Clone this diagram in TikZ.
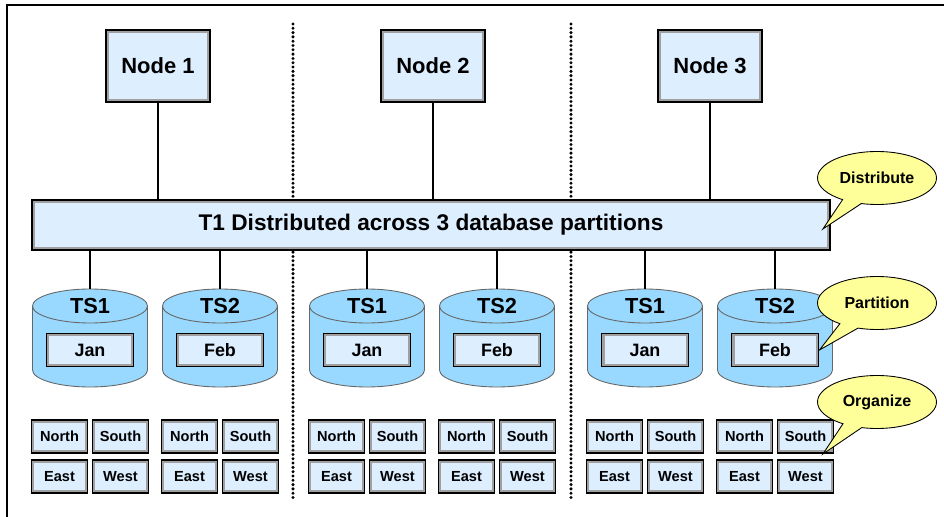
\documentclass[tikz,border=0pt]{standalone}
\usepackage{fontspec}
\setmainfont{Liberation Sans}
\usetikzlibrary{shapes.geometric,shapes.callouts}

\definecolor{azulclaro}{RGB}{221,238,255}
\definecolor{azulcil}{RGB}{153,217,255}
\definecolor{amarillo}{RGB}{255,255,153}
\definecolor{grisborde}{RGB}{160,160,160}

\tikzset{
  caja/.style={draw=black, line width=1.1pt, fill=azulclaro, inner sep=0pt,
    path picture={\draw[grisborde, line width=3.4pt] (path picture bounding box.south west) rectangle (path picture bounding box.north east);}},
  nodo/.style={caja, minimum width=2.08cm, minimum height=1.44cm, font=\fontsize{12.5}{14}\selectfont\bfseries},
  tabla/.style={caja, minimum width=15.96cm, minimum height=1cm, font=\fontsize{12.9}{15}\selectfont\bfseries},
  mes/.style={caja, minimum width=1.74cm, minimum height=0.66cm, font=\fontsize{10.2}{12}\selectfont\bfseries},
  region/.style={caja, minimum width=1.12cm, minimum height=0.66cm, font=\fontsize{8.3}{10}\selectfont\bfseries},
  cuerpo/.style={fill=azulcil, draw=gray!80!black, line width=0.5pt},
  tapa/.style={ellipse, cuerpo, minimum width=2.3cm, minimum height=0.68cm, inner sep=0pt, font=\fontsize{12.4}{14}\selectfont\bfseries},
  linea/.style={line width=1.1pt},
  puntos/.style={line width=1.9pt, dash pattern=on 0pt off 2.45pt, line cap=round},
  globo/.style={ellipse callout, draw=black, line width=0.5pt, fill=amarillo, callout pointer arc=20, minimum width=2.38cm, minimum height=1.06cm, inner sep=0pt, font=\fontsize{9.1}{11}\selectfont\bfseries}
}

\begin{document}
\begin{tikzpicture}[x=0.02cm, y=-0.02cm]
  \useasboundingbox (0,0) rectangle (944,517);

  % Marco
  \draw[line width=0.6pt] (944,5) -- (7,5) -- (7,517);

  % Separadores
  \draw[puntos] (293,24) -- (293,498);
  \draw[puntos] (571,24) -- (571,498);

  % Nodos y tabla
  \node[nodo] (n1) at (158,66) {Node 1};
  \node[nodo] (n2) at (433,66) {Node 2};
  \node[nodo] (n3) at (710,66) {Node 3};
  \node[tabla] (t1) at (431,225) {T1 Distributed across 3 database partitions};
  \foreach \i in {1,2,3}
    \draw[linea] (n\i.south) -- (n\i.south |- t1.north);

  % Espacios de tablas
  \foreach \s/\dx in {1/0, 2/277, 3/555} {
    \foreach \t/\cx/\mes in {1/90/Jan, 2/220/Feb} {
      \path[cuerpo] (\cx+\dx-57.5,306) -- (\cx+\dx-57.5,370)
        arc[start angle=180, end angle=360, x radius=1.15cm, y radius=0.34cm]
        -- (\cx+\dx+57.5,306);
      \node[tapa] (ts\s\t) at (\cx+\dx,306) {TS\t};
      \node[mes] (m\s\t) at (\cx+\dx,350) {\mes};
      \draw[linea] (ts\s\t.north |- t1.south) -- (ts\s\t.north);
      % Regiones
      \node[region] (rn\s\t) at (\cx+\dx-30.5,436.5) {North};
      \node[region] (rs\s\t) at (\cx+\dx+30.5,436.5) {South};
      \node[region] (re\s\t) at (\cx+\dx-30.5,476.5) {East};
      \node[region] (rw\s\t) at (\cx+\dx+30.5,476.5) {West};
    }
  }

  % Globos
  \node[globo, callout absolute pointer={([xshift=-0.16cm, yshift=-0.08cm]t1.east)}] (g1) at (877,178) {Distribute};
  \node[globo, callout absolute pointer={(m32.east)}] (g2) at (877,303) {Partition};
  \node[globo, callout absolute pointer={([xshift=-0.23cm]rs32.south east)}] (g3) at (877,402) {Organize};

\end{tikzpicture}
\end{document}
